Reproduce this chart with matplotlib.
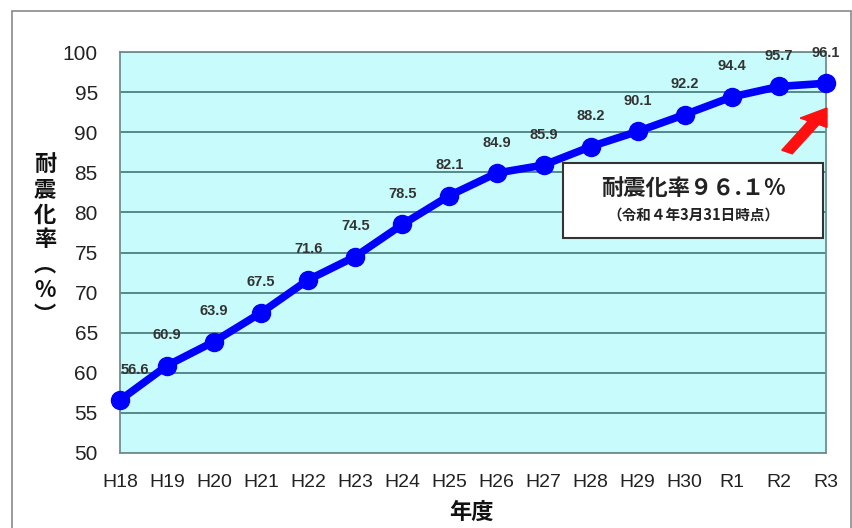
import matplotlib
matplotlib.use("Agg")
import matplotlib.pyplot as plt
from matplotlib.patches import Rectangle, FancyArrow

plt.rcParams['font.family'] = ['Noto Sans CJK JP', 'DejaVu Sans']

years = ["H18", "H19", "H20", "H21", "H22", "H23", "H24", "H25", "H26", "H27",
         "H28", "H29", "H30", "R1", "R2", "R3"]
rate = [56.6, 60.9, 63.9, 67.5, 71.6, 74.5, 78.5, 82.1, 84.9, 85.9,
        88.2, 90.1, 92.2, 94.4, 95.7, 96.1]
yticks = [50, 55, 60, 65, 70, 75, 80, 85, 90, 95, 100]

fig = plt.figure(figsize=(8.53, 5.28), dpi=100)
# outer frame
fig.patches.append(Rectangle((12/853, -0.01), 839/853, 1 - 11/528 + 0.01,
                             transform=fig.transFigure, fill=False,
                             edgecolor="#8a8a8a", linewidth=1.2))

ax = fig.add_axes([120/853, 1 - 453/528, 706/853, 401/528])
ax.set_facecolor("#c8fcfc")
ax.set_xlim(0, len(years) - 1)
ax.set_ylim(50, 100)
ax.set_yticks(yticks)
ax.set_xticks(range(len(years)))
ax.set_xticklabels(years)
ax.grid(axis="y", color="#4f7f80", linewidth=1.3)
ax.set_axisbelow(True)
for s in ax.spines.values():
    s.set_color("#6f8f8f")
    s.set_linewidth(1.3)
ax.tick_params(length=0)
ax.tick_params(axis="y", pad=16, labelsize=15)
ax.tick_params(axis="x", pad=15, labelsize=14)
for lab in ax.get_xticklabels() + ax.get_yticklabels():
    lab.set_family(['Liberation Sans', 'DejaVu Sans'])
    lab.set_color("#222222")

ax.plot(range(len(years)), rate, color="#0000ff", linewidth=5.5, marker="o",
        markersize=13, clip_on=False, zorder=3)

for i, v in enumerate(rate):
    dx = 11 if i == 0 else 0
    ax.annotate(f"{v}", (i, v), xytext=(dx, 22), textcoords="offset points",
                ha="center", va="center", fontsize=10.5, fontweight="bold",
                color="#333333", family=['Liberation Sans', 'DejaVu Sans'],
                annotation_clip=False)

# y label, vertical writing
fig.text(45/853, 1 - 240/528, "\n".join("耐震化率︵%︶"), ha="center", va="center",
         fontsize=16, fontweight="bold", linespacing=1.12, color="#111111")
fig.text(471/853, 1 - 512/528, "年度", ha="center", va="center",
         fontsize=16, fontweight="bold", color="#111111")

# callout box
fig.patches.append(Rectangle((563/853, 1 - 238/528), 260/853, 75/528,
                             transform=fig.transFigure, facecolor="white",
                             edgecolor="#333333", linewidth=1.5, zorder=5))
fig.text(693/853, 1 - 189/528, "耐震化率９６.１%", ha="center", va="center",
         fontsize=16, fontweight="bold", color="#222222", zorder=6)
fig.text(693/853, 1 - 215/528, "（令和４年3月31日時点）", ha="center", va="center",
         fontsize=10.5, fontweight="bold", color="#222222", zorder=6)

# red arrow
fig.patches.append(FancyArrow(787/853, 1 - 152/528, 40/853, 44/528,
                              width=0.014, head_width=0.036, head_length=0.032,
                              transform=fig.transFigure, color="#ff1010",
                              length_includes_head=True, zorder=6))

fig.savefig("out.png", dpi=100)
